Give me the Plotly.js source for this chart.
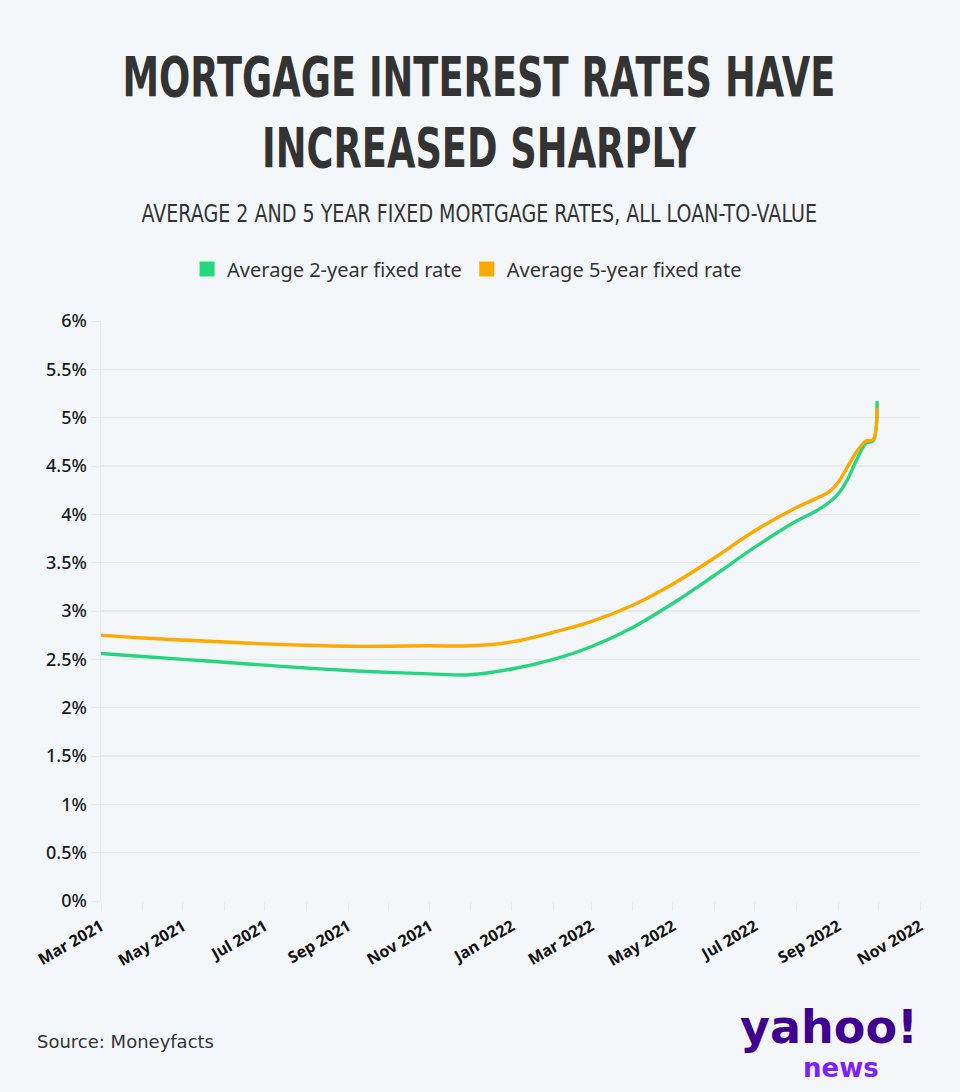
<!DOCTYPE html>
<html>
<head>
<meta charset="utf-8">
<script src="https://cdn.plot.ly/plotly-3.0.1.min.js"></script>
<style>
  html, body { margin: 0; padding: 0; background: #f4f7fa; }
  #chart { width: 960px; height: 1092px; }
</style>
</head>
<body>
<div id="chart"></div>
<script>
// ---- Data ----
const dates = [
  '2021-03-01','2021-04-01','2021-05-01','2021-06-01','2021-07-01','2021-08-01',
  '2021-09-01','2021-10-01','2021-11-01','2021-12-01','2022-01-01','2022-02-01',
  '2022-03-01','2022-04-01','2022-05-01','2022-06-01','2022-07-01','2022-08-01',
  '2022-08-15','2022-08-25','2022-09-01','2022-09-08','2022-09-15','2022-09-22','2022-09-27','2022-09-30'
];
const twoYearRate = [
  2.56, 2.53, 2.50, 2.47, 2.44, 2.41,
  2.385, 2.365, 2.35, 2.34, 2.40, 2.50,
  2.63, 2.83, 3.08, 3.37, 3.66, 3.93,
  4.03, 4.12, 4.21, 4.36, 4.57, 4.74, 4.76, 5.17
];
const fiveYearRate = [
  2.75, 2.72, 2.70, 2.68, 2.66, 2.645,
  2.635, 2.635, 2.64, 2.64, 2.68, 2.78,
  2.89, 3.06, 3.28, 3.55, 3.83, 4.07,
  4.16, 4.23, 4.33, 4.49, 4.65, 4.76, 4.77, 5.10
];
const seriesNames = ['Average 2-year fixed rate', 'Average 5-year fixed rate'];
const yTickVals = [0, 0.5, 1, 1.5, 2, 2.5, 3, 3.5, 4, 4.5, 5, 5.5, 6];
const yTickText = ['0%','0.5%','1%','1.5%','2%','2.5%','3%','3.5%','4%','4.5%','5%','5.5%','6%'];

const titleText = 'MORTGAGE INTEREST RATES HAVE<br>INCREASED SHARPLY';
const subtitleText = 'AVERAGE 2 AND 5 YEAR FIXED MORTGAGE RATES, ALL LOAN-TO-VALUE';
const sourceText = 'Source: Moneyfacts';

const GREEN = '#26d67f';
const ORANGE = '#ffa800';
const GRID = '#e9eaec';

const traces = [
  { x: dates, y: twoYearRate, type: 'scatter', mode: 'lines', name: seriesNames[0],
    line: { color: GREEN, width: 3.4, shape: 'spline', smoothing: 1 }, showlegend: false, hoverinfo: 'skip' },
  { x: dates, y: fiveYearRate, type: 'scatter', mode: 'lines', name: seriesNames[1],
    line: { color: ORANGE, width: 3.4, shape: 'spline', smoothing: 1 }, showlegend: false, hoverinfo: 'skip' },
  // legend swatches
  { x: [null], y: [null], type: 'scatter', mode: 'markers', name: seriesNames[0],
    marker: { color: GREEN, symbol: 'square', size: 15 } },
  { x: [null], y: [null], type: 'scatter', mode: 'markers', name: seriesNames[1],
    marker: { color: ORANGE, symbol: 'square', size: 15 } }
];

const layout = {
  width: 960, height: 1092,
  paper_bgcolor: '#f4f7fa', plot_bgcolor: '#f4f7fa',
  margin: { l: 101, r: 40, t: 321, b: 191 },
  font: { family: '"Noto Sans", sans-serif', color: '#222' },
  showlegend: true,
  legend: {
    orientation: 'h', x: 0.447, xanchor: 'center', y: 1.0897, yanchor: 'middle',
    font: { family: '"Noto Sans", sans-serif', size: 20, color: '#333' },
    bgcolor: 'rgba(0,0,0,0)', itemwidth: 30, tracegroupgap: 0
  },
  xaxis: {
    type: 'date', range: ['2021-03-01', '2022-11-01'],
    tick0: '2021-03-01', dtick: 'M2', tickformat: '%b %Y', tickangle: -30,
    ticks: 'outside', ticklen: 9, tickcolor: GRID, tickwidth: 1,
    minor: { dtick: 'M1', ticks: 'outside', ticklen: 9, tickcolor: GRID, showgrid: false },
    showgrid: false, showline: false, zeroline: false,
    tickfont: { family: '"Noto Sans", sans-serif', size: 16, color: '#111', weight: 700 },
    fixedrange: true
  },
  yaxis: {
    range: [0, 6], tickvals: yTickVals, ticktext: yTickText,
    ticks: 'outside', ticklen: 9, tickcolor: GRID,
    showgrid: true, gridcolor: GRID, gridwidth: 1.5,
    showline: true, linecolor: GRID, linewidth: 1.5, zeroline: false,
    tickfont: { family: '"Noto Sans", sans-serif', size: 18, color: '#1a1a1a', weight: 500 },
    fixedrange: true
  },
  annotations: [
    { text: titleText, xref: 'paper', yref: 'paper', x: 0.462, y: 1.358,
      xanchor: 'center', yanchor: 'middle', showarrow: false, align: 'center',
      font: { family: '"DejaVu Sans", sans-serif', size: 55, color: '#333333', weight: 700 } },
    { text: subtitleText, xref: 'paper', yref: 'paper', x: 0.462, y: 1.1862,
      xanchor: 'center', yanchor: 'middle', showarrow: false,
      font: { family: '"DejaVu Sans", sans-serif', size: 25, color: '#333333' } },
    { text: sourceText, xref: 'paper', yref: 'paper', x: -0.0803, y: -0.2431,
      xanchor: 'left', yanchor: 'middle', showarrow: false,
      font: { family: '"DejaVu Sans", sans-serif', size: 18, color: '#333333' } },
    { text: 'yahoo!', xref: 'paper', yref: 'paper', x: 0.8889, y: -0.2172,
      xanchor: 'center', yanchor: 'middle', showarrow: false,
      font: { family: '"DejaVu Sans", sans-serif', size: 46, color: '#400090', weight: 700 } },
    { text: 'news', xref: 'paper', yref: 'paper', x: 0.9035, y: -0.2880,
      xanchor: 'center', yanchor: 'middle', showarrow: false,
      font: { family: '"DejaVu Sans", sans-serif', size: 26, color: '#7e1fff', weight: 700 } }
  ]
};

// squeeze the condensed-style texts horizontally to the reference widths
function squeeze(g, targetWidth) {
  if (!g) return;
  const t = g.querySelector('text');
  if (!t) return;
  const bb = t.getBBox();
  if (!bb.width) return;
  const s = targetWidth / bb.width;
  const cx = bb.x + bb.width / 2;
  t.setAttribute('transform', 'translate(' + cx + ',0) scale(' + s + ',1) translate(' + (-cx) + ',0)');
}

Plotly.newPlot('chart', traces, layout, { displayModeBar: false, staticPlot: true }).then(function () {
  const anns = document.querySelectorAll('#chart g.annotation');
  squeeze(anns[0], 713);
  squeeze(anns[1], 676);
});
</script>
</body>
</html>
